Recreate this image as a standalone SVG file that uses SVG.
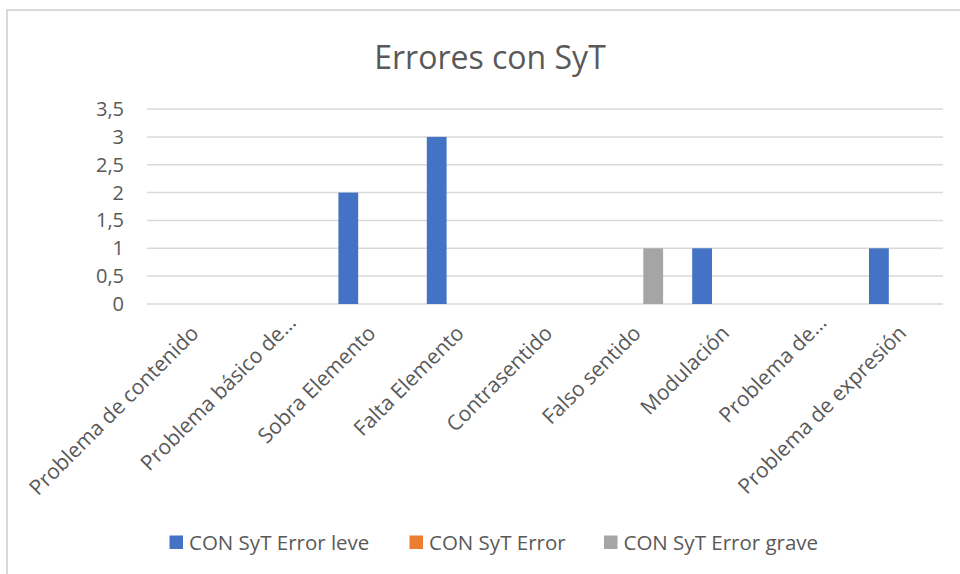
<svg xmlns="http://www.w3.org/2000/svg" width="960" height="574" viewBox="0 0 960 574">
<style>
text{font-family:"Open Sans","Liberation Sans",sans-serif;fill:#595959}
.grid{stroke:#d9d9d9;stroke-width:1.5;fill:none}
.ylab{font-size:20px;text-anchor:end}
.xlab{font-size:21px;text-anchor:end}
.leg{font-size:20.5px}
.blue{fill:#4472c4}
.orange{fill:#ed7d31}
.gray{fill:#a5a5a5}
</style>
<rect x="0" y="0" width="960" height="574" fill="#ffffff"/>
<path d="M7 574 V10 H960" stroke="#d9d9d9" stroke-width="2" fill="none"/>
<text x="490" y="69" font-size="32" text-anchor="middle">Errores con SyT</text>
<g id="gridlines">
<line class="grid" x1="147" y1="109" x2="943" y2="109"/>
<line class="grid" x1="147" y1="136.9" x2="943" y2="136.9"/>
<line class="grid" x1="147" y1="164.7" x2="943" y2="164.7"/>
<line class="grid" x1="147" y1="192.6" x2="943" y2="192.6"/>
<line class="grid" x1="147" y1="220.4" x2="943" y2="220.4"/>
<line class="grid" x1="147" y1="248.3" x2="943" y2="248.3"/>
<line class="grid" x1="147" y1="276.1" x2="943" y2="276.1"/>
<line class="grid" x1="147" y1="304" x2="943" y2="304"/>
</g>
<g id="y-axis">
<text class="ylab" x="124" y="116">3,5</text>
<text class="ylab" x="124" y="143.9">3</text>
<text class="ylab" x="124" y="171.7">2,5</text>
<text class="ylab" x="124" y="199.6">2</text>
<text class="ylab" x="124" y="227.4">1,5</text>
<text class="ylab" x="124" y="255.3">1</text>
<text class="ylab" x="124" y="283.1">0,5</text>
<text class="ylab" x="124" y="311">0</text>
</g>
<g id="bars">
<rect class="blue" x="338.4" y="192.6" width="19.8" height="111.4"/>
<rect class="blue" x="426.8" y="136.9" width="19.8" height="167.1"/>
<rect class="gray" x="643.3" y="248.3" width="19.8" height="55.7"/>
<rect class="blue" x="692.2" y="248.3" width="19.8" height="55.7"/>
<rect class="blue" x="869" y="248.3" width="19.8" height="55.7"/>
</g>
<g id="x-axis">
<text class="xlab" transform="translate(200,334.5) rotate(-45)">Problema de contenido</text>
<text class="xlab" transform="translate(297.2,324) rotate(-45)">Problema básico de…</text>
<text class="xlab" transform="translate(376.9,334.5) rotate(-45)">Sobra Elemento</text>
<text class="xlab" transform="translate(465.3,334.5) rotate(-45)">Falta Elemento</text>
<text class="xlab" transform="translate(553.8,334.5) rotate(-45)">Contrasentido</text>
<text class="xlab" transform="translate(642.2,334.5) rotate(-45)">Falso sentido</text>
<text class="xlab" transform="translate(730.7,334.5) rotate(-45)">Modulación</text>
<text class="xlab" transform="translate(827.8,324) rotate(-45)">Problema de…</text>
<text class="xlab" transform="translate(907.5,334.5) rotate(-45)">Problema de expresión</text>
</g>
<g id="legend">
<rect class="blue" x="169.5" y="535.5" width="13.5" height="13.5"/>
<text class="leg" x="189" y="549.5">CON SyT Error leve</text>
<rect class="orange" x="409.5" y="535.5" width="13.5" height="13.5"/>
<text class="leg" x="429" y="549.5">CON SyT Error</text>
<rect class="gray" x="604" y="535.5" width="13.5" height="13.5"/>
<text class="leg" x="623.5" y="549.5">CON SyT Error grave</text>
</g>
</svg>
